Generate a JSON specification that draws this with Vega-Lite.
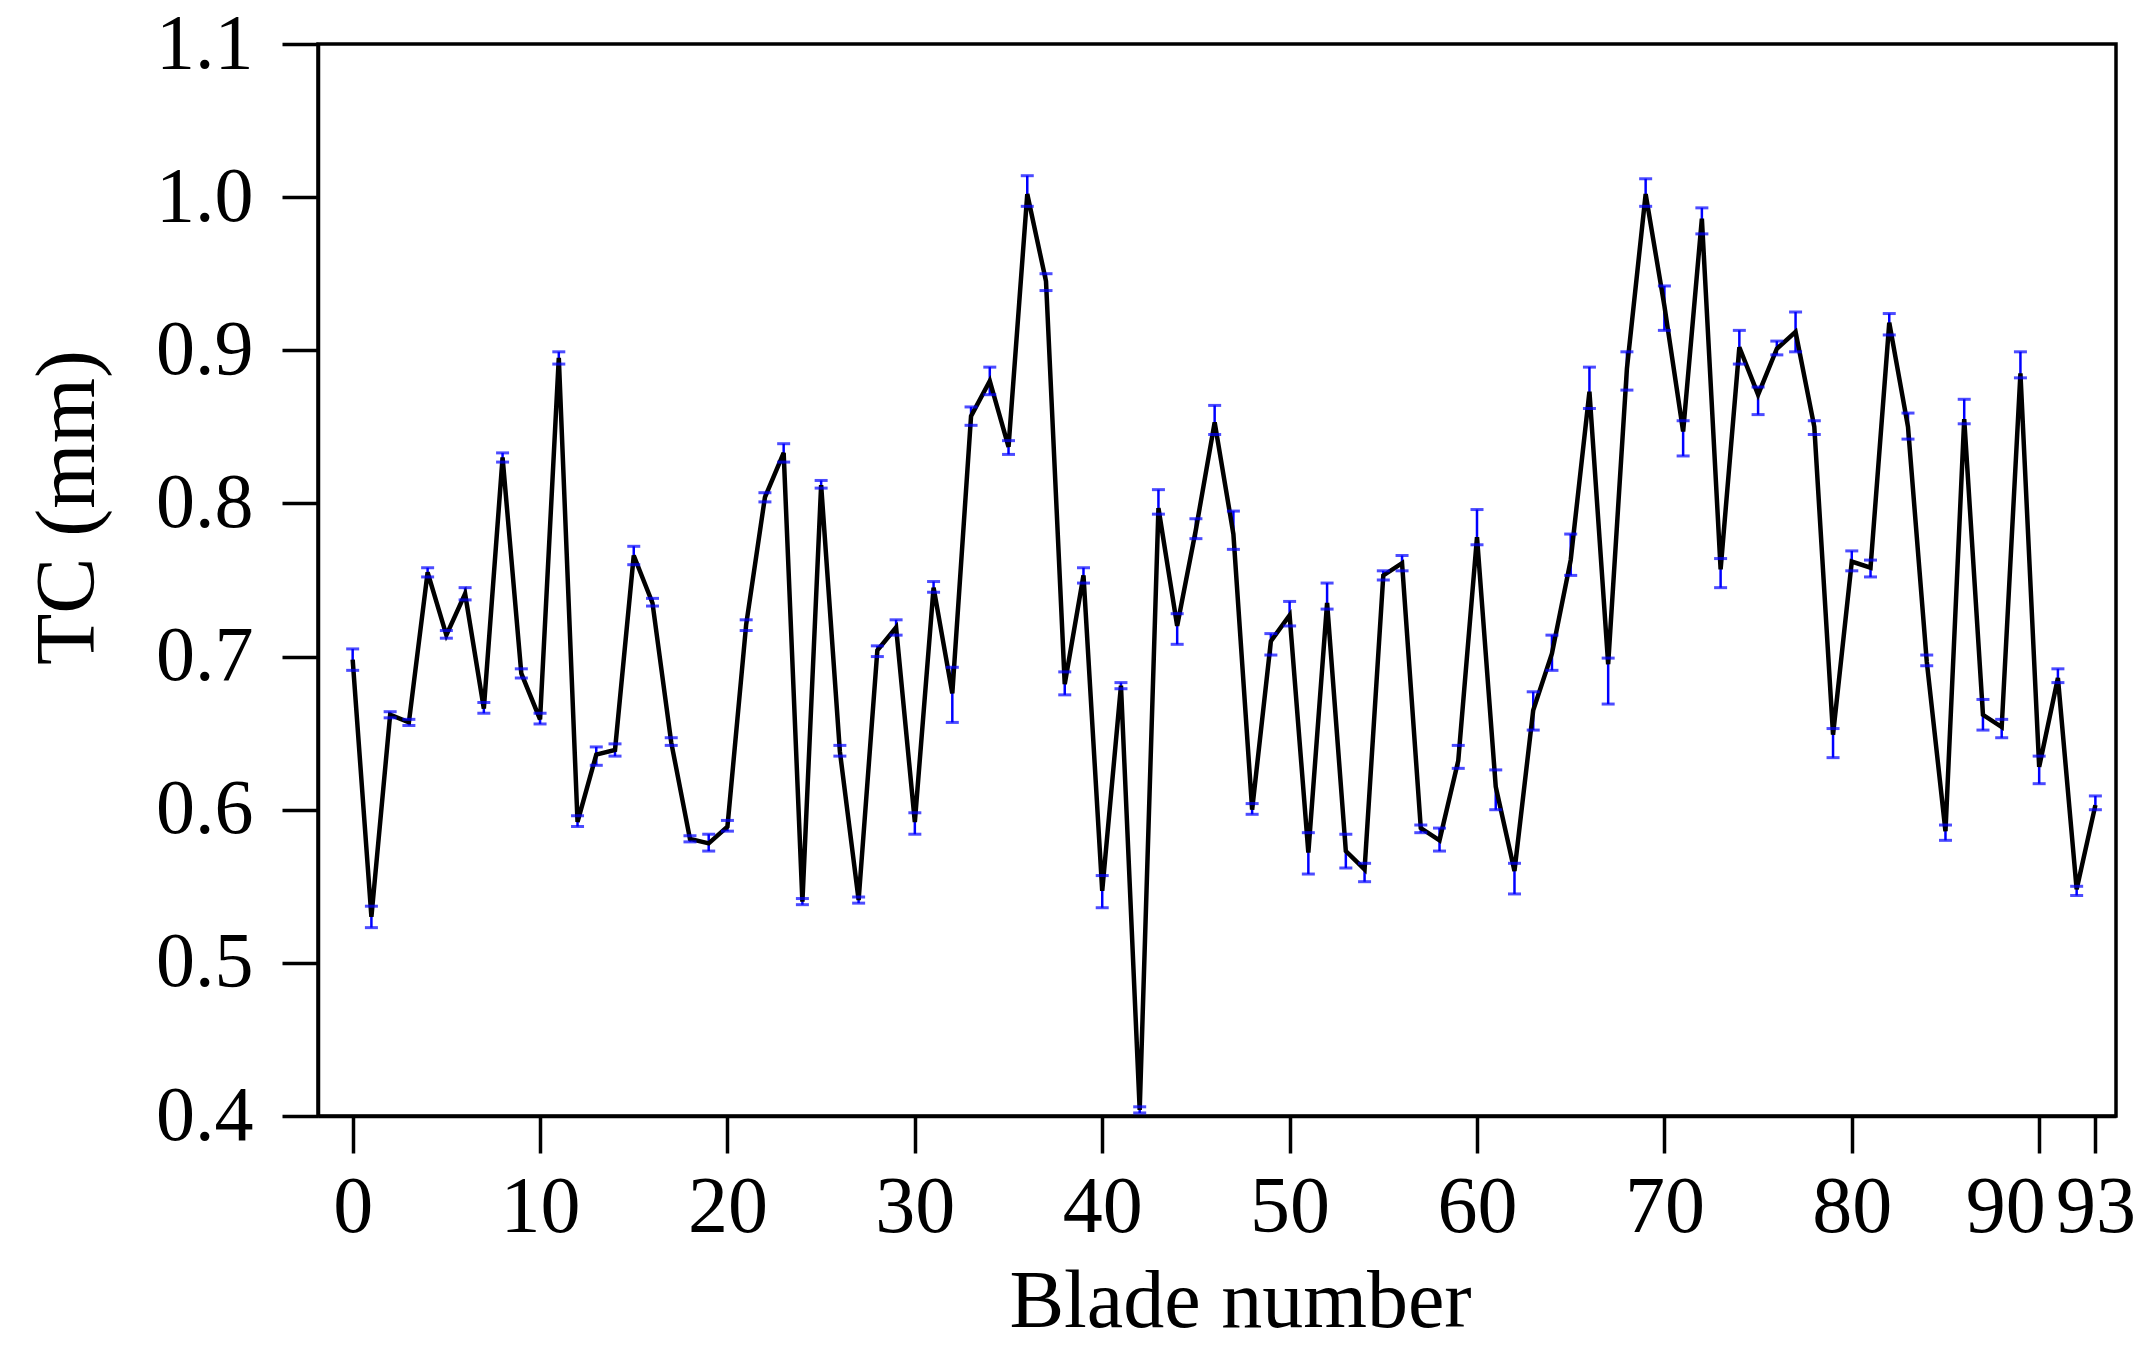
{
  "$schema": "https://vega.github.io/schema/vega-lite/v6.json",
  "width": 1798,
  "height": 1072,
  "autosize": {"type": "none"},
  "padding": {"left": 318, "top": 44, "right": 35, "bottom": 232},
  "background": "white",
  "config": {
    "font": "Liberation Serif",
    "view": {"stroke": "black", "strokeWidth": 3.5},
    "axis": {
      "domainColor": "black", "domainWidth": 3.5,
      "tickColor": "black", "tickWidth": 3.5,
      "labelColor": "black", "titleColor": "black",
      "labelFont": "Liberation Serif", "titleFont": "Liberation Serif",
      "labelFontWeight": "normal", "titleFontWeight": "normal",
      "grid": false
    }
  },
  "data": {"values": [
    {"b":0,"tc":0.698,"lo":0.691,"hi":0.705},
    {"b":1,"tc":0.530,"lo":0.523,"hi":0.537},
    {"b":2,"tc":0.662,"lo":0.660,"hi":0.664},
    {"b":3,"tc":0.657,"lo":0.655,"hi":0.659},
    {"b":4,"tc":0.755,"lo":0.752,"hi":0.758},
    {"b":5,"tc":0.714,"lo":0.712,"hi":0.717},
    {"b":6,"tc":0.741,"lo":0.737,"hi":0.745},
    {"b":7,"tc":0.666,"lo":0.663,"hi":0.670},
    {"b":8,"tc":0.830,"lo":0.827,"hi":0.833},
    {"b":9,"tc":0.689,"lo":0.686,"hi":0.692},
    {"b":10,"tc":0.659,"lo":0.656,"hi":0.663},
    {"b":11,"tc":0.895,"lo":0.891,"hi":0.899},
    {"b":12,"tc":0.592,"lo":0.589,"hi":0.596},
    {"b":13,"tc":0.636,"lo":0.629,"hi":0.641},
    {"b":14,"tc":0.639,"lo":0.635,"hi":0.643},
    {"b":15,"tc":0.766,"lo":0.760,"hi":0.772},
    {"b":16,"tc":0.735,"lo":0.733,"hi":0.738},
    {"b":17,"tc":0.644,"lo":0.642,"hi":0.647},
    {"b":18,"tc":0.581,"lo":0.579,"hi":0.583},
    {"b":19,"tc":0.578,"lo":0.573,"hi":0.584},
    {"b":20,"tc":0.589,"lo":0.586,"hi":0.593},
    {"b":21,"tc":0.721,"lo":0.717,"hi":0.724},
    {"b":22,"tc":0.804,"lo":0.801,"hi":0.807},
    {"b":23,"tc":0.833,"lo":0.827,"hi":0.839},
    {"b":24,"tc":0.540,"lo":0.538,"hi":0.542},
    {"b":25,"tc":0.812,"lo":0.810,"hi":0.815},
    {"b":26,"tc":0.638,"lo":0.635,"hi":0.642},
    {"b":27,"tc":0.541,"lo":0.539,"hi":0.543},
    {"b":28,"tc":0.704,"lo":0.700,"hi":0.707},
    {"b":29,"tc":0.719,"lo":0.714,"hi":0.724},
    {"b":30,"tc":0.592,"lo":0.584,"hi":0.598},
    {"b":31,"tc":0.745,"lo":0.742,"hi":0.749},
    {"b":32,"tc":0.676,"lo":0.657,"hi":0.693},
    {"b":33,"tc":0.857,"lo":0.851,"hi":0.863},
    {"b":34,"tc":0.880,"lo":0.871,"hi":0.889},
    {"b":35,"tc":0.837,"lo":0.832,"hi":0.841},
    {"b":36,"tc":1.002,"lo":0.994,"hi":1.014},
    {"b":37,"tc":0.945,"lo":0.939,"hi":0.950},
    {"b":38,"tc":0.682,"lo":0.675,"hi":0.690},
    {"b":39,"tc":0.753,"lo":0.748,"hi":0.758},
    {"b":40,"tc":0.547,"lo":0.536,"hi":0.557},
    {"b":41,"tc":0.681,"lo":0.679,"hi":0.683},
    {"b":42,"tc":0.404,"lo":0.402,"hi":0.406},
    {"b":43,"tc":0.797,"lo":0.793,"hi":0.809},
    {"b":44,"tc":0.720,"lo":0.708,"hi":0.728},
    {"b":45,"tc":0.783,"lo":0.777,"hi":0.790},
    {"b":46,"tc":0.853,"lo":0.845,"hi":0.864},
    {"b":47,"tc":0.780,"lo":0.770,"hi":0.795},
    {"b":48,"tc":0.600,"lo":0.597,"hi":0.604},
    {"b":49,"tc":0.710,"lo":0.701,"hi":0.715},
    {"b":50,"tc":0.727,"lo":0.720,"hi":0.736},
    {"b":51,"tc":0.572,"lo":0.558,"hi":0.585},
    {"b":52,"tc":0.735,"lo":0.731,"hi":0.748},
    {"b":53,"tc":0.573,"lo":0.562,"hi":0.584},
    {"b":54,"tc":0.561,"lo":0.553,"hi":0.565},
    {"b":55,"tc":0.753,"lo":0.750,"hi":0.756},
    {"b":56,"tc":0.761,"lo":0.756,"hi":0.766},
    {"b":57,"tc":0.588,"lo":0.585,"hi":0.590},
    {"b":58,"tc":0.580,"lo":0.573,"hi":0.588},
    {"b":59,"tc":0.632,"lo":0.627,"hi":0.642},
    {"b":60,"tc":0.778,"lo":0.773,"hi":0.796},
    {"b":61,"tc":0.615,"lo":0.600,"hi":0.626},
    {"b":62,"tc":0.560,"lo":0.545,"hi":0.565},
    {"b":63,"tc":0.665,"lo":0.652,"hi":0.677},
    {"b":64,"tc":0.702,"lo":0.691,"hi":0.714},
    {"b":65,"tc":0.763,"lo":0.753,"hi":0.780},
    {"b":66,"tc":0.873,"lo":0.862,"hi":0.889},
    {"b":67,"tc":0.695,"lo":0.669,"hi":0.699},
    {"b":68,"tc":0.888,"lo":0.874,"hi":0.899},
    {"b":69,"tc":1.002,"lo":0.994,"hi":1.012},
    {"b":70,"tc":0.929,"lo":0.913,"hi":0.942},
    {"b":71,"tc":0.847,"lo":0.831,"hi":0.854},
    {"b":72,"tc":0.986,"lo":0.976,"hi":0.993},
    {"b":73,"tc":0.757,"lo":0.745,"hi":0.764},
    {"b":74,"tc":0.902,"lo":0.891,"hi":0.913},
    {"b":75,"tc":0.871,"lo":0.858,"hi":0.876},
    {"b":76,"tc":0.901,"lo":0.897,"hi":0.906},
    {"b":77,"tc":0.912,"lo":0.899,"hi":0.925},
    {"b":78,"tc":0.850,"lo":0.845,"hi":0.854},
    {"b":79,"tc":0.649,"lo":0.634,"hi":0.653},
    {"b":80,"tc":0.762,"lo":0.756,"hi":0.769},
    {"b":81,"tc":0.758,"lo":0.752,"hi":0.763},
    {"b":82,"tc":0.918,"lo":0.910,"hi":0.924},
    {"b":83,"tc":0.850,"lo":0.842,"hi":0.859},
    {"b":84,"tc":0.697,"lo":0.694,"hi":0.701},
    {"b":85,"tc":0.586,"lo":0.580,"hi":0.590},
    {"b":86,"tc":0.855,"lo":0.852,"hi":0.868},
    {"b":87,"tc":0.662,"lo":0.652,"hi":0.672},
    {"b":88,"tc":0.654,"lo":0.647,"hi":0.659},
    {"b":89,"tc":0.885,"lo":0.882,"hi":0.899},
    {"b":90,"tc":0.628,"lo":0.617,"hi":0.635},
    {"b":91,"tc":0.686,"lo":0.683,"hi":0.692},
    {"b":92,"tc":0.548,"lo":0.544,"hi":0.550},
    {"b":93,"tc":0.603,"lo":0.600,"hi":0.609}
  ]},
  "encoding": {
    "x": {
      "field": "b", "type": "quantitative",
      "scale": {"domain": [-1.85, 94.1], "nice": false, "zero": false},
      "axis": {
        "values": [0, 10, 20, 30, 40, 50, 60, 70, 80, 90, 93],
        "format": "d",
        "title": "Blade number",
        "titleFontSize": 82,
        "titleX": 922, "titleY": 210,
        "titleAnchor": "middle", "titleAlign": "center", "titleBaseline": "alphabetic",
        "labelFontSize": 80,
        "tickSize": 37,
        "labelPadding": 15,
        "labelOverlap": false,
        "labelFlush": false,
        "labelBound": false,
        "labelOffset": {"condition": {"test": "datum.value == 90", "value": -34}, "value": 0}
      }
    }
  },
  "layer": [
    {
      "mark": {"type": "rule", "color": "#0000ff", "strokeWidth": 2.5},
      "encoding": {
        "y": {"field": "lo", "type": "quantitative"},
        "y2": {"field": "hi"}
      }
    },
    {
      "mark": {"type": "line", "color": "black", "strokeWidth": 4.5},
      "encoding": {
        "y": {
          "field": "tc", "type": "quantitative",
          "scale": {"domain": [0.4, 1.1], "nice": false, "zero": false},
          "axis": {
            "values": [0.4, 0.5, 0.6, 0.7, 0.8, 0.9, 1.0, 1.1],
            "format": ".1f",
            "title": "TC (mm)",
            "titleFontSize": 84,
            "titleAngle": -90,
            "titleX": -250, "titleY": 463,
            "titleAlign": "center", "titleBaseline": "middle",
            "labelFontSize": 78,
            "tickSize": 36,
            "labelPadding": 29
          }
        }
      }
    },
    {
      "mark": {"type": "tick", "color": "#0000ff", "orient": "horizontal", "size": 13, "thickness": 3},
      "encoding": {"y": {"field": "hi", "type": "quantitative"}}
    },
    {
      "mark": {"type": "tick", "color": "#0000ff", "orient": "horizontal", "size": 13, "thickness": 3},
      "encoding": {"y": {"field": "lo", "type": "quantitative"}}
    }
  ]
}
